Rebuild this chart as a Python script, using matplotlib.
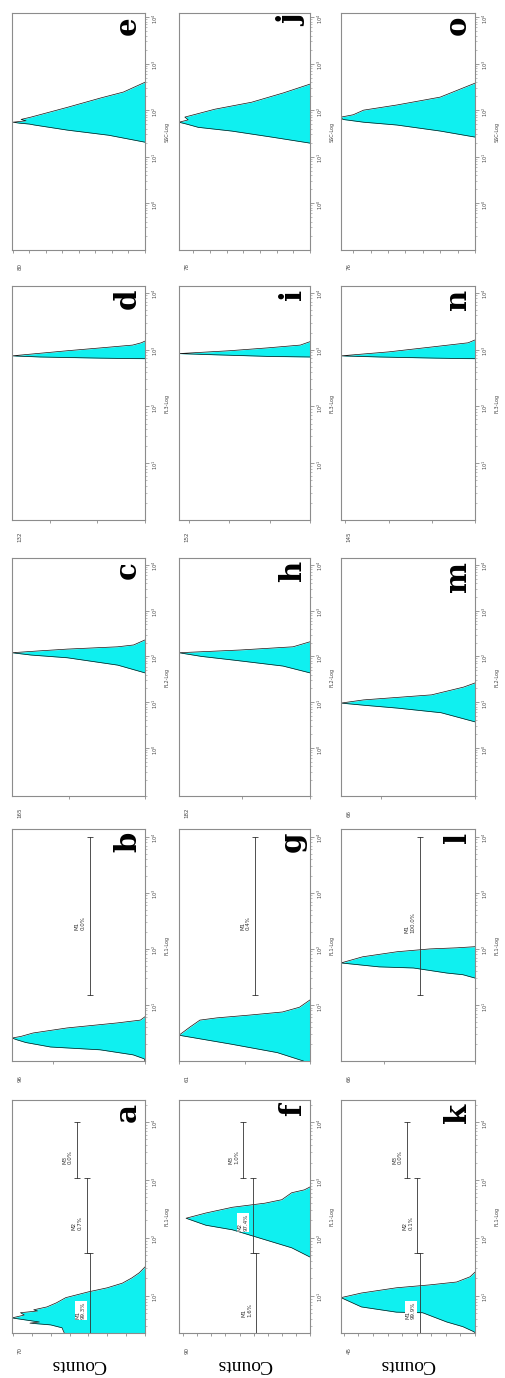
import matplotlib.pyplot as plt
from matplotlib.ticker import FixedLocator, FixedFormatter, LogLocator, NullFormatter

W, H = 506, 1378

# histograms: log10 of the channel value and the counts
a_fl = [0.30, 0.45, 0.50, 0.53, 0.55, 0.62, 0.67, 0.71, 0.74, 0.76, 0.81, 0.88, 0.97, 1.02, 1.07, 1.14, 1.22, 1.31, 1.40, 1.50]
a_ct = [42, 44, 50, 61, 56, 70.5, 64, 66, 57, 59, 52, 47, 42, 36, 30, 20, 12, 7, 3, 0]
b_fl = [0.0, 0.04, 0.11, 0.20, 0.25, 0.33, 0.38, 0.41, 0.44, 0.50, 0.59, 0.68, 0.73, 0.79]
b_ct = [0, 1, 13, 49, 103, 130, 140, 145, 135, 122, 85, 30, 5, 0]
c_fl = [1.64, 1.81, 1.97, 2.03, 2.08, 2.12, 2.16, 2.21, 2.25, 2.36]
c_ct = [0, 36, 102, 150, 175, 140, 102, 36, 15, 0]
d_fl = [2.84, 2.85, 2.87, 2.89, 2.98, 3.03, 3.08, 3.12, 3.15]
d_ct = [0, 47, 110, 140, 82, 47, 13, 4, 0]
e_fl = [1.31, 1.46, 1.57, 1.68, 1.70, 1.72, 1.74, 1.77, 1.80, 1.85, 2.06, 2.26, 2.39, 2.60]
e_ct = [0, 22, 47, 67, 70, 76, 80, 72, 75, 69, 47, 27, 13, 0]
f_fl = [1.67, 1.83, 1.97, 2.14, 2.22, 2.34, 2.43, 2.53, 2.60, 2.66, 2.78, 2.83, 2.88]
f_ct = [0, 13, 32, 55, 74, 88, 74, 55, 32, 20, 13, 4, 0]
g_fl = [0.0, 0.15, 0.30, 0.46, 0.60, 0.73, 0.77, 0.82, 0.875, 0.96, 1.09]
g_ct = [5, 25, 60, 100, 92, 84, 71, 46, 21, 8, 0]
h_fl = [1.64, 1.79, 1.92, 2.00, 2.08, 2.14, 2.21, 2.32]
h_ct = [0, 40, 113, 160, 193, 103, 25, 0]
i_fl = [2.87, 2.88, 2.91, 2.93, 2.98, 3.03, 3.08, 3.14]
i_ct = [0, 50, 120, 162, 100, 53, 12, 0]
j_fl = [1.29, 1.42, 1.55, 1.63, 1.70, 1.74, 1.79, 1.85, 2.02, 2.17, 2.37, 2.56]
j_ct = [0, 23, 47, 67, 74, 78.5, 73, 75, 57, 35, 16, 0]
k_fl = [0.30, 0.38, 0.47, 0.55, 0.71, 0.72, 0.81, 0.97, 1.05, 1.14, 1.19, 1.24, 1.33, 1.41]
k_ct = [0, 0.3, 4.2, 9.7, 18, 27, 39, 46, 39, 27, 15.6, 6.3, 1.7, 0]
l_fl = [1.48, 1.54, 1.57, 1.66, 1.68, 1.75, 1.86, 1.95, 2.00, 2.02, 2.04]
l_ct = [0, 6.7, 15.6, 34, 53, 74, 62, 43, 25, 10, 0]
m_fl = [0.57, 0.77, 0.87, 0.93, 0.98, 1.05, 1.16, 1.33, 1.42]
m_ct = [0, 18, 41, 58, 71, 59, 23, 6, 0]
n_fl = [2.84, 2.85, 2.87, 2.89, 2.96, 3.05, 3.12, 3.17]
n_ct = [0, 45, 110, 155, 100, 48, 8, 0]
o_fl = [1.42, 1.55, 1.68, 1.74, 1.80, 1.85, 1.90, 2.00, 2.11, 2.28, 2.58]
o_ct = [0, 20, 45, 64, 76, 77, 70, 64, 45, 20, 0]

# count axis of each panel: top of axis, ticks, and the number printed beside it
letters = 'abcdefghijklmno'
count_max = [70.5, 145, 175, 140, 80.5, 93, 100, 193, 162, 78.5, 46, 74, 71, 155, 77]
count_step = [10, 100, 100, 50, 10, 10, 50, 100, 50, 10, 5, 50, 50, 50, 10]
count_label = ['70', '96', '165', '132', '80', '90', '61', '182', '152', '78', '45', '66', '66', '145', '76']

# markers (gates): channel range in decades, count level, name, percent
gate_lo = {'a': [0, 1.74, 3.03], 'f': [0, 1.74, 3.03], 'k': [0, 1.74, 3.03],
           'b': [1.18], 'g': [1.18], 'l': [1.18]}
gate_hi = {'a': [1.74, 3.03, 4.0], 'f': [1.74, 3.03, 4.0], 'k': [1.74, 3.03, 4.0],
           'b': [4.0], 'g': [4.0], 'l': [4.0]}
gate_ct = {'a': [29, 31, 36], 'f': [38, 40.5, 47.5], 'k': [18.8, 19.8, 23.3],
           'b': [60], 'g': [42], 'l': [30.6]}
gate_pct = {'a': ['99.3%', '0.7%', '0.0%'], 'f': ['1.6%', '97.4%', '1.0%'],
            'k': ['99.9%', '0.1%', '0.0%'], 'b': ['0.0%'], 'g': ['0.4%'], 'l': ['100.0%']}

row_axis_name = ['SSC-Log', 'FL3-Log', 'FL2-Log', 'FL1-Log', 'FL1-Log']

hist = {}
for key in letters:
    hist[key] = (globals()[key + '_fl'], globals()[key + '_ct'])

# layout of the rotated page, in pixels
col_px = [(12, 145), (179, 310), (341, 475)]
row_px = [(13, 250), (286, 520), (558, 796), (829, 1061), (1100, 1333)]
row_dec = [(-1.01, 4.09), (0.0, 4.12), (-1.05, 4.15), (0.0, 4.14), (0.36, 4.38)]

cyan = '#0ff0f0'
frame = '#8c8c8c'

fig = plt.figure(figsize=(W / 100, H / 100), dpi=100)

for r, (y0, y1) in enumerate(row_px):
    for c, (x0, x1) in enumerate(col_px):
        idx = c * 5 + 4 - r
        key = letters[idx]
        ax = fig.add_axes([x0 / W, 1 - y1 / H, (x1 - x0) / W, (y1 - y0) / H])
        fl, ct = hist[key]
        ys = [10 ** v for v in fl]
        ax.fill_betweenx(ys, ct, 0, color=cyan, lw=0, zorder=1)
        ax.plot(ct, ys, color='#111111', lw=0.5, zorder=2)

        lo, hi = row_dec[r]
        ax.set_yscale('log')
        ax.set_ylim(10 ** lo, 10 ** hi)
        ax.set_xlim(count_max[idx], 0)

        # channel axis on the right
        ax.yaxis.tick_right()
        dec = [k for k in range(0, 5) if lo + 0.05 < k <= hi]
        ax.yaxis.set_major_locator(FixedLocator([10 ** k for k in dec]))
        ax.yaxis.set_major_formatter(FixedFormatter([r'$10^{%d}$' % k for k in dec]))
        ax.yaxis.set_minor_locator(LogLocator(base=10, subs=range(2, 10), numticks=20))
        ax.yaxis.set_minor_formatter(NullFormatter())
        ax.tick_params(axis='y', which='major', direction='out', length=3, width=0.6,
                       color=frame, labelsize=3.5, labelrotation=90, pad=1, labelcolor='#444444')
        ax.tick_params(axis='y', which='minor', direction='out', length=1.5, width=0.4, color=frame)

        # count axis at the bottom
        step = count_step[idx]
        ticks = [t * step for t in range(0, int(count_max[idx] // step) + 1)]
        ax.set_xticks(ticks)
        ax.set_xticklabels([])
        ax.tick_params(axis='x', direction='out', length=2.5, width=0.6, color=frame)

        for s in ax.spines.values():
            s.set_color(frame)
            s.set_linewidth(0.8)

        ax.text(8 / (x1 - x0), -17 / (y1 - y0), count_label[idx], transform=ax.transAxes,
                rotation=90, fontsize=4, ha='center', va='center', color='#444444')
        ax.text(1 + 22 / (x1 - x0), 0.5, row_axis_name[r], transform=ax.transAxes,
                rotation=90, fontsize=3.5, ha='center', va='center', color='#444444')
        ax.text(1 - 3 / (x1 - x0), 1 - 3 / (y1 - y0), key, transform=ax.transAxes,
                rotation=90, fontsize=21, fontweight='bold', family='DejaVu Serif',
                ha='right', va='top', zorder=5)

        if key in gate_ct:
            for n, (g0, g1, gc, gp) in enumerate(zip(gate_lo[key], gate_hi[key],
                                                     gate_ct[key], gate_pct[key])):
                ax.plot([gc, gc], [10 ** g0, 10 ** g1], color='#333333', lw=0.6,
                        marker='_', ms=4, mew=0.6, zorder=3)
                mid = 10 ** ((max(g0, 0) + min(g1, 4)) / 2)
                ax.annotate('M%d\n%s' % (n + 1, gp), xy=(gc, mid), xytext=(-3, -5),
                            textcoords='offset points', rotation=90, fontsize=4,
                            ha='right', va='center', multialignment='left',
                            color='#333333', zorder=4,
                            bbox=dict(facecolor='white', edgecolor='none', pad=0.4))

        if r == 4:
            fig.text(((x0 + x1) / 2) / W, 1 - 1364 / H, 'Counts', rotation=180,
                     fontsize=14, family='Liberation Serif', ha='center', va='center')

fig.savefig('out.png', dpi=100)
